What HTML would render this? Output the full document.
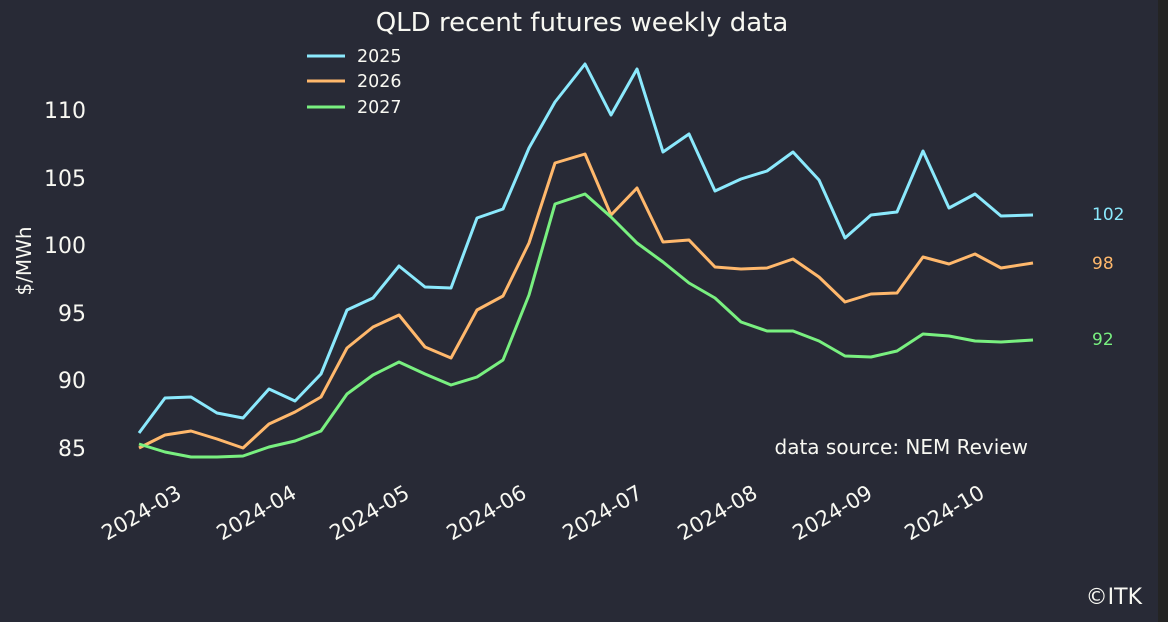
<!DOCTYPE html>
<html><head><meta charset="utf-8"><style>
html,body{margin:0;padding:0;background:#282a36;}
svg{display:block;}
text{font-family:"DejaVu Sans","Liberation Sans",sans-serif;}
</style></head><body>
<svg width="1168" height="622" viewBox="0 0 1168 622" xmlns="http://www.w3.org/2000/svg">
<rect width="1168" height="622" fill="#282a36"/>
<rect x="1158" y="0" width="10" height="622" fill="#242424"/>
<text x="582" y="31" font-size="26" fill="#f8f8f2" text-anchor="middle">QLD recent futures weekly data</text>
<g stroke-width="3" fill="none" stroke-linejoin="round">
<line x1="307" y1="56" x2="345" y2="56" stroke="#8be9fd"/>
<line x1="307" y1="81" x2="345" y2="81" stroke="#ffb86c"/>
<line x1="307" y1="107" x2="345" y2="107" stroke="#79f080"/>
</g>
<g font-size="17.5" fill="#f8f8f2">
<text x="357" y="62">2025</text>
<text x="357" y="87">2026</text>
<text x="357" y="113">2027</text>
</g>
<g font-size="22" fill="#f8f8f2" text-anchor="end">
<text x="86" y="118">110</text>
<text x="86" y="186">105</text>
<text x="86" y="253">100</text>
<text x="86" y="321">95</text>
<text x="86" y="388">90</text>
<text x="86" y="456">85</text>
</g>
<text transform="translate(31,261) rotate(-90)" font-size="20" fill="#f8f8f2" text-anchor="middle">$/MWh</text>
<g font-size="21" fill="#f8f8f2" text-anchor="end">
<text transform="translate(183,497) rotate(-30)">2024-03</text>
<text transform="translate(298,497) rotate(-30)">2024-04</text>
<text transform="translate(411,497) rotate(-30)">2024-05</text>
<text transform="translate(528,497) rotate(-30)">2024-06</text>
<text transform="translate(644,497) rotate(-30)">2024-07</text>
<text transform="translate(759,497) rotate(-30)">2024-08</text>
<text transform="translate(874,497) rotate(-30)">2024-09</text>
<text transform="translate(986,497) rotate(-30)">2024-10</text>
</g>
<g stroke-width="3" fill="none" stroke-linejoin="round">
<polyline stroke="#8be9fd" points="139,433 165,398 191,397 217,413 243,418 269,389 295,401 321,374 347,310 373,298 399,266 425,287 451,288 477,218 503,209 529,148 555,102 585,64 611,115 637,69 663,152 689,134 715,191 741,179 767,171 793,152 819,180 845,238 871,215 897,212 923,151 949,208 975,194 1001,216 1033,215"/>
<polyline stroke="#ffb86c" points="139,448 165,435 191,431 217,439 243,448 269,424 295,412 321,397 347,348 373,327 399,315 425,347 451,358 477,310 503,296 529,243 555,163 585,154 611,215 637,188 663,242 689,240 715,267 741,269 767,268 793,259 819,277 845,302 871,294 897,293 923,257 949,264 975,254 1001,268 1033,263"/>
<polyline stroke="#79f080" points="139,444 165,452 191,457 217,457 243,456 269,447 295,441 321,431 347,394 373,375 399,362 425,374 451,385 477,377 503,360 529,295 555,204 585,194 611,217 637,243 663,262 689,283 715,298 741,322 767,331 793,331 819,341 845,356 871,357 897,351 923,334 949,336 975,341 1001,342 1033,340"/>
</g>
<g font-size="17">
<text x="1092" y="220" fill="#8be9fd">102</text>
<text x="1092" y="269" fill="#ffb86c">98</text>
<text x="1092" y="345" fill="#79f080">92</text>
</g>
<text x="1028" y="454" font-size="20" fill="#f8f8f2" text-anchor="end">data source: NEM Review</text>
<text x="1142" y="604" font-size="22" fill="#f8f8f2" text-anchor="end">©ITK</text>
</svg>
</body></html>
